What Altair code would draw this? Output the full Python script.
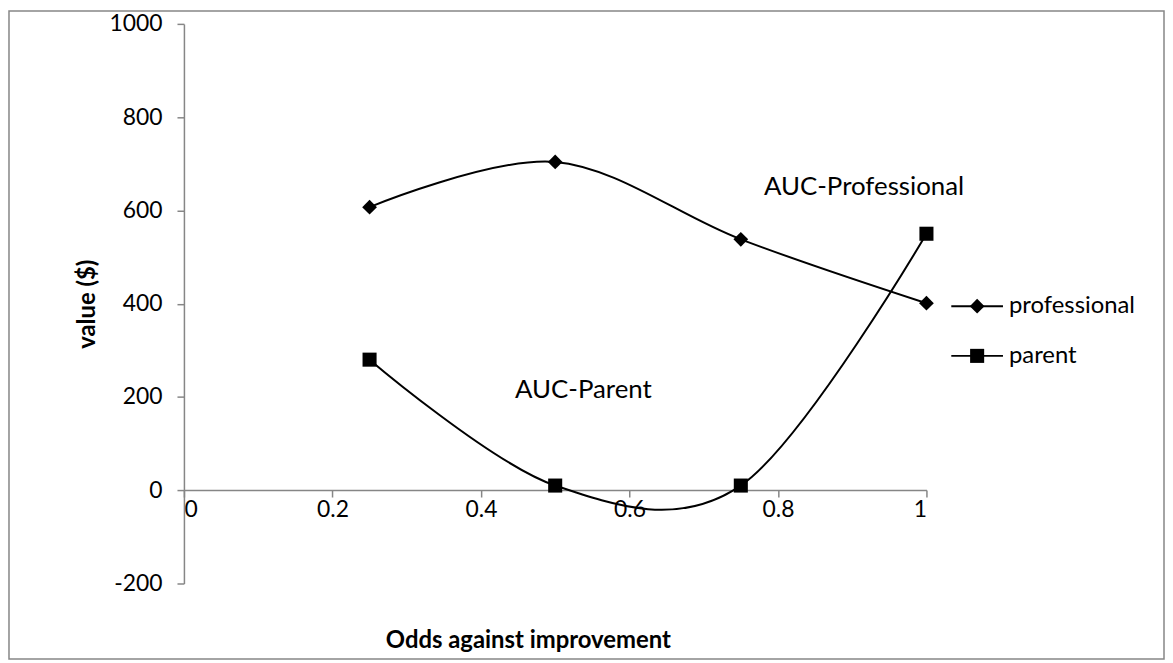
import altair as alt
import pandas as pd

odds = [0.25, 0.5, 0.75, 1.0]
professional = [607, 704, 538, 401]
parent = [280, 10, 10, 550]
series_names = ["professional", "parent"]
series_shapes = ["diamond", "square"]
series_sizes = [220, 200]
annot_text = ["AUC-Professional", "AUC-Parent"]
annot_x = [0.916, 0.538]
annot_y = [650, 215]
x_ticks = [0, 0.2, 0.4, 0.6, 0.8, 1.0]
y_ticks = [-200, 0, 200, 400, 600, 800, 1000]

rows = []
for name, vals in zip(series_names, [professional, parent]):
    for x, v in zip(odds, vals):
        rows.append({"odds": x, "value": v, "series": name})
df = pd.DataFrame(rows)

W, H = 747, 563
FONT = "Lato"
GRAY = "#868686"

xs = alt.Scale(domain=[0, 1], nice=False)
ys = alt.Scale(domain=[-200, 1000], nice=False)
shape_scale = alt.Scale(domain=series_names, range=series_shapes)
size_scale = alt.Scale(domain=series_names, range=series_sizes)

base = alt.Chart(df)

lines = base.mark_line(color="black", strokeWidth=2, interpolate="cardinal", tension=0).encode(
    x=alt.X("odds:Q", scale=xs, axis=alt.Axis(
        values=x_ticks, labelExpr="'' + datum.value", grid=False,
        offset=-94, domainColor=GRAY, tickColor=GRAY, tickSize=7, domainWidth=1.5, tickWidth=1.5,
        labelFontSize=23, labelFont=FONT, labelColor="black", labelPadding=2,
        title="Odds against improvement", titleFont=FONT, titleFontSize=24,
        titleFontWeight="bold", titleColor="black", titlePadding=107, titleX=346)),
    y=alt.Y("value:Q", scale=ys, axis=alt.Axis(
        values=y_ticks, labelExpr="'' + datum.value", grid=False,
        domainColor=GRAY, tickColor=GRAY, tickSize=7, domainWidth=1.5, tickWidth=1.5,
        labelFontSize=23, labelFont=FONT, labelColor="black", labelPadding=15,
        title="value ($)", titleFont=FONT, titleFontSize=24, titleFontWeight="bold",
        titleColor="black", titlePadding=10)),
    detail="series:N",
)

points = base.mark_point(filled=True, color="black", opacity=1).encode(
    x=alt.X("odds:Q", scale=xs),
    y=alt.Y("value:Q", scale=ys),
    shape=alt.Shape("series:N", scale=shape_scale, legend=None),
    size=alt.Size("series:N", scale=size_scale, legend=None),
)

annots = alt.Chart(pd.DataFrame({"t": annot_text, "x": annot_x, "y": annot_y})).mark_text(
    font=FONT, fontSize=26, color="black").encode(
    x=alt.X("x:Q", scale=xs), y=alt.Y("y:Q", scale=ys), text="t:N")

# manual legend, one row per series
legend_layers = []
for i, (name, shp, sz) in enumerate(zip(series_names, series_shapes, series_sizes)):
    ly = 284 + 50 * i
    d = alt.Chart(pd.DataFrame({"series": [name]}))
    legend_layers.append(d.mark_rule(color="black", strokeWidth=2).encode(
        x=alt.value(772), x2=alt.value(824), y=alt.value(ly)))
    legend_layers.append(d.mark_point(filled=True, color="black", opacity=1, shape=shp, size=sz).encode(
        x=alt.value(798), y=alt.value(ly)))
    legend_layers.append(d.mark_text(font=FONT, fontSize=24, align="left", color="black").encode(
        x=alt.value(830), y=alt.value(ly), text="series:N")
    )

border = alt.Chart(pd.DataFrame({"a": [0]})).mark_rect(
    fill="white", fillOpacity=0, stroke=GRAY, strokeWidth=1.5).encode(
    x=alt.value(-176), x2=alt.value(W + 239), y=alt.value(-13), y2=alt.value(H + 76))

chart = alt.layer(border, lines, points, annots, *legend_layers).properties(
    width=W, height=H,
    autosize=alt.AutoSizeParams(type="none"),
    padding={"left": 177, "top": 14, "right": 240, "bottom": 77},
).configure(background="white").configure_view(strokeWidth=0, strokeOpacity=0)

chart.save("out.html", embed_options={"renderer": "svg", "actions": False})
